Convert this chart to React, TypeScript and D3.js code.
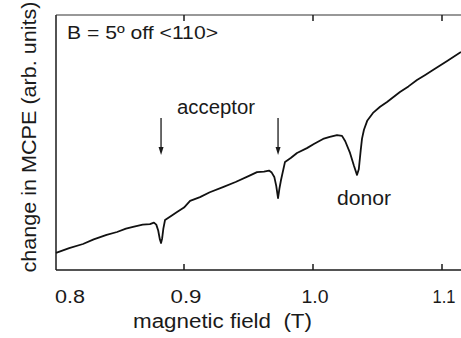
import { useEffect, useRef } from "react";
import * as d3 from "d3";

// magnetic field (T) and MCPE signal (arb. units, 0 = bottom of frame, 10 = top)
const fieldT = [
  0.8008, 0.8110, 0.8217, 0.8300, 0.8400, 0.8481, 0.8550, 0.8605, 0.8680, 0.8736,
  0.8767, 0.8785, 0.8800, 0.8812, 0.8822, 0.8830, 0.8840, 0.8853, 0.8900, 0.8946,
  0.9000, 0.9047, 0.9124, 0.9200, 0.9302, 0.9400, 0.9500, 0.9566, 0.9620, 0.9659,
  0.9680, 0.9700, 0.9715, 0.9729, 0.9740, 0.9752, 0.9783, 0.9830, 0.9876, 0.9953,
  1.0010, 1.0078, 1.0130, 1.0186, 1.0225, 1.0250, 1.0287, 1.0318, 1.0341, 1.0355,
  1.0370, 1.0380, 1.0395, 1.0420, 1.0465, 1.0520, 1.0574, 1.0674, 1.0740, 1.0806,
  1.0870, 1.0930, 1.1040, 1.1147,
];
const mcpe = [
  0.67, 0.86, 1.02, 1.20, 1.38, 1.49, 1.62, 1.69, 1.78, 1.80,
  1.86, 1.78, 1.55, 1.22, 1.06, 1.22, 1.62, 1.96, 2.12, 2.27,
  2.45, 2.71, 2.86, 3.05, 3.25, 3.45, 3.68, 3.84, 3.86, 3.90,
  3.82, 3.65, 3.30, 2.82, 3.20, 3.53, 4.24, 4.40, 4.59, 4.78,
  4.95, 5.14, 5.22, 5.29, 5.26, 5.05, 4.59, 4.08, 3.73, 3.95,
  4.70, 5.15, 5.50, 5.85, 6.16, 6.40, 6.59, 6.98, 7.20, 7.45,
  7.65, 7.84, 8.20, 8.55,
];
const xTicks = [0.8, 0.9, 1.0, 1.1];
const xTickLabels = ["0.8", "0.9", "1.0", "1.1"];

const W = 461;
const H = 338;
const font = "'Liberation Sans', Arial, Helvetica, sans-serif";
const ink = "#1a1a1a";

export default function App() {
  const svgRef = useRef<SVGSVGElement | null>(null);

  useEffect(() => {
    if (!svgRef.current) return;
    const svg = d3.select(svgRef.current);
    svg.selectAll("*").remove();

    const left = 56;
    const top = 15;
    const bottom = 270;

    const x = d3.scaleLinear().domain([0.8, 0.9]).range([55, 184]);
    const y = d3.scaleLinear().domain([0, 10]).range([bottom, top]);

    // helper for stretched scan-like text
    const label = (
      tx: number, ty: number, s: string, size: number, len: number,
      anchor = "start", transform?: string,
    ) => {
      const t = svg.append("text")
        .attr("x", tx)
        .attr("y", ty)
        .attr("text-anchor", anchor)
        .attr("font-family", font)
        .attr("font-size", size)
        .attr("fill", ink)
        .attr("textLength", len)
        .attr("lengthAdjust", "spacingAndGlyphs")
        .text(s);
      if (transform) t.attr("transform", transform);
      return t;
    };

    // frame: left, bottom, top (open on the right)
    const frame = svg.append("g").attr("stroke", ink).attr("stroke-width", 1.5).attr("fill", "none");
    frame.append("line").attr("x1", left).attr("x2", left).attr("y1", top).attr("y2", bottom);
    frame.append("line").attr("x1", left).attr("x2", W).attr("y1", bottom).attr("y2", bottom);
    frame.append("line").attr("x1", left).attr("x2", W).attr("y1", top).attr("y2", top)
      .attr("stroke-width", 1.2).attr("stroke", "#333");

    // inward ticks top and bottom
    xTicks.slice(1).forEach((t) => {
      frame.append("line").attr("x1", x(t)).attr("x2", x(t)).attr("y1", bottom).attr("y2", bottom - 6);
      frame.append("line").attr("x1", x(t)).attr("x2", x(t)).attr("y1", top).attr("y2", top + 6);
    });

    const tickLens = [30, 31, 27, 23];
    xTicks.forEach((t, i) => {
      label(i === 0 ? x(t) : x(t) + 2, 303, xTickLabels[i], 18, tickLens[i], i === 0 ? "start" : "middle");
    });

    // curve
    const line = d3.line<number>()
      .x((_, i) => x(fieldT[i]))
      .y((d) => y(d))
      .curve(d3.curveLinear);
    svg.append("path")
      .datum(mcpe)
      .attr("d", line)
      .attr("fill", "none")
      .attr("stroke", "#111")
      .attr("stroke-width", 1.8)
      .attr("stroke-linejoin", "round");

    // axis titles
    label(133, 328, "magnetic field\u00a0\u00a0(T)", 19.5, 179);
    label(0, 0, "change in MCPE (arb. units)", 19.5, 271, "middle", "translate(36,137) rotate(-90)");

    // annotations
    label(67, 39, "B = 5º off <110>", 19, 151);
    label(177, 114, "acceptor", 19.5, 78);
    label(337, 205, "donor", 19.5, 54);

    [0.8822, 0.9729].forEach((f) => {
      const ax = x(f);
      svg.append("line")
        .attr("x1", ax).attr("x2", ax).attr("y1", 118).attr("y2", 150)
        .attr("stroke", ink).attr("stroke-width", 1.3);
      svg.append("path")
        .attr("d", `M${ax - 2.5},${147} L${ax + 2.5},${147} L${ax},${155} Z`)
        .attr("fill", ink);
    });
  }, []);

  return (
    <svg
      ref={svgRef}
      width={W}
      height={H}
      style={{ position: "absolute", left: 0, top: 0, background: "#fff" }}
    />
  );
}
